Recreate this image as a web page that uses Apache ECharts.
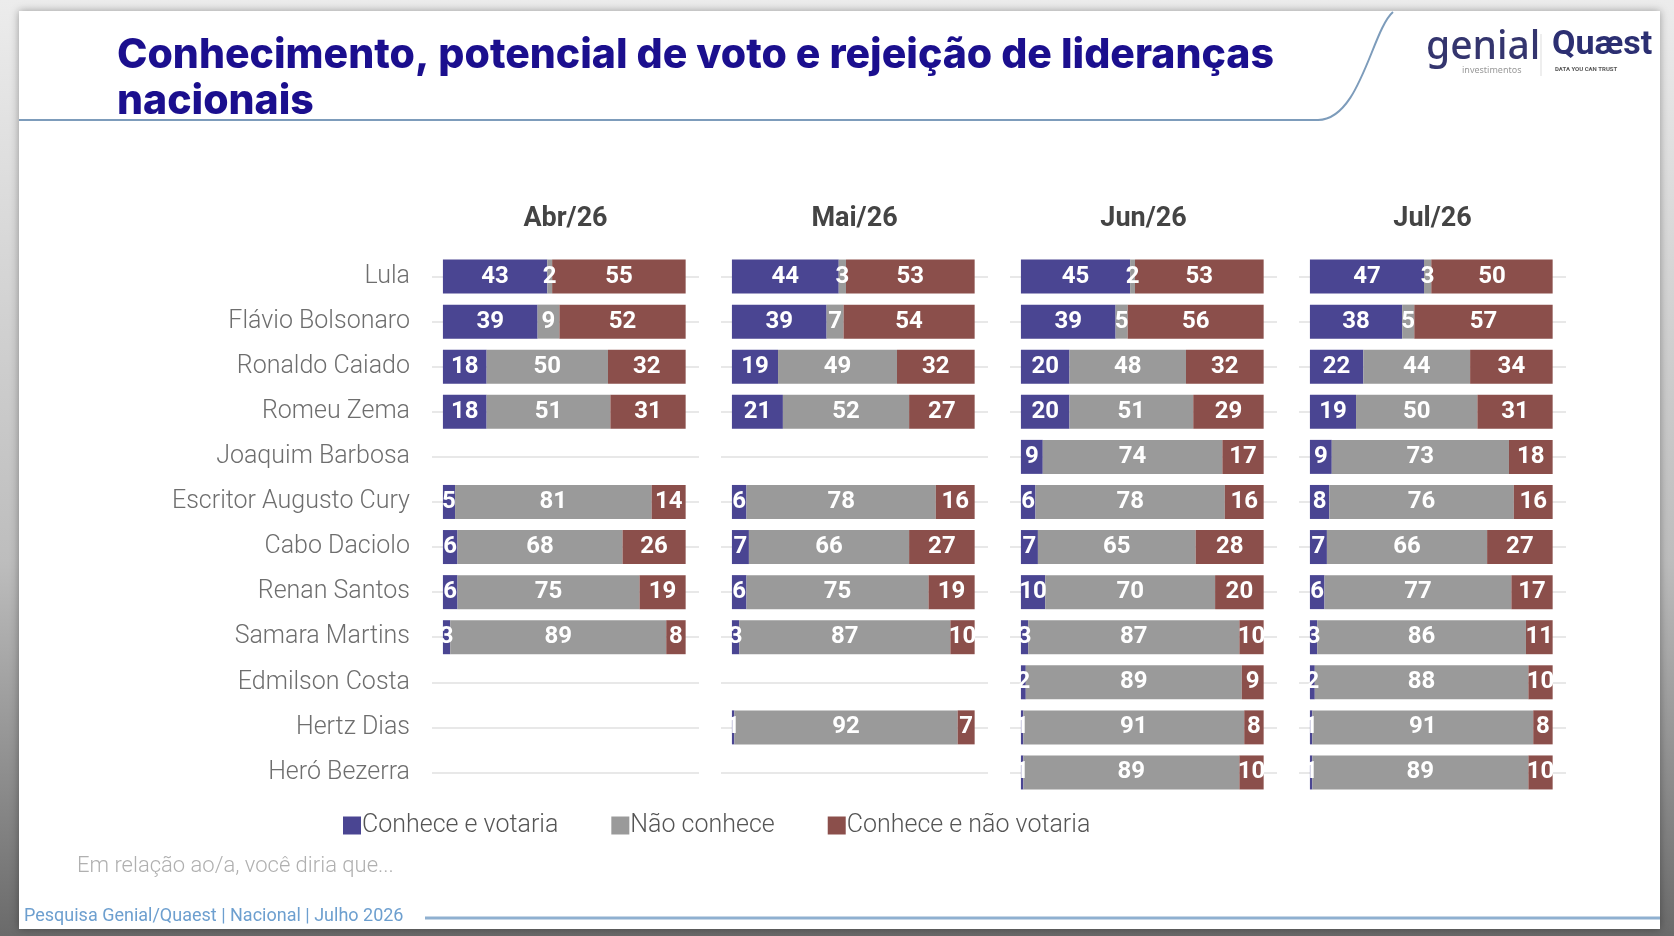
<!DOCTYPE html>
<html>
<head>
<meta charset="utf-8">
<script src="https://cdn.jsdelivr.net/npm/echarts@6/dist/echarts.min.js"></script>
<style>
  html, body { margin: 0; padding: 0; }
  #main { width: 1674px; height: 936px; }
</style>
</head>
<body>
<div id="main"></div>
<script>
// dados
var nomes = ['Lula', 'Flávio Bolsonaro', 'Ronaldo Caiado', 'Romeu Zema', 'Joaquim Barbosa',
  'Escritor Augusto Cury', 'Cabo Daciolo', 'Renan Santos', 'Samara Martins',
  'Edmilson Costa', 'Hertz Dias', 'Heró Bezerra'];
var meses = ['Abr/26', 'Mai/26', 'Jun/26', 'Jul/26'];
var legendas = ['Conhece e votaria', 'Não conhece', 'Conhece e não votaria'];

var votariaAbr = [43, 39, 18, 18, null, 5, 6, 6, 3, null, null, null];
var naoConheceAbr = [2, 9, 50, 51, null, 81, 68, 75, 89, null, null, null];
var rejeicaoAbr = [55, 52, 32, 31, null, 14, 26, 19, 8, null, null, null];

var votariaMai = [44, 39, 19, 21, null, 6, 7, 6, 3, null, 1, null];
var naoConheceMai = [3, 7, 49, 52, null, 78, 66, 75, 87, null, 92, null];
var rejeicaoMai = [53, 54, 32, 27, null, 16, 27, 19, 10, null, 7, null];

var votariaJun = [45, 39, 20, 20, 9, 6, 7, 10, 3, 2, 1, 1];
var naoConheceJun = [2, 5, 48, 51, 74, 78, 65, 70, 87, 89, 91, 89];
var rejeicaoJun = [53, 56, 32, 29, 17, 16, 28, 20, 10, 9, 8, 10];

var votariaJul = [47, 38, 22, 19, 9, 8, 7, 6, 3, 2, 1, 1];
var naoConheceJul = [3, 5, 44, 50, 73, 76, 66, 77, 86, 88, 91, 89];
var rejeicaoJul = [50, 57, 34, 31, 18, 16, 27, 17, 11, 10, 8, 10];

var dadosMes = [
  [votariaAbr, naoConheceAbr, rejeicaoAbr],
  [votariaMai, naoConheceMai, rejeicaoMai],
  [votariaJun, naoConheceJun, rejeicaoJun],
  [votariaJul, naoConheceJul, rejeicaoJul]
];
var cores = ['#4a4592', '#9a9a9a', '#8b4f4b'];

var chart = echarts.init(document.getElementById('main'));

var gridLeft = [432, 721, 1010, 1299], gridW = 267;
var grids = [], xAxes = [], yAxes = [], series = [], headers = [];

gridLeft.forEach(function (left, i) {
  grids.push({ left: left, top: 254, width: gridW, height: 541 });
  xAxes.push({ type: 'value', gridIndex: i, min: -4.5, max: 105.5, show: false });
  yAxes.push({
    type: 'category', gridIndex: i, data: nomes, inverse: true,
    axisLine: { show: false }, axisTick: { show: false },
    axisLabel: {
      show: i === 0, margin: 22, color: '#6e6e6e', fontSize: 25,
      fontFamily: 'Roboto', fontWeight: 300
    }
  });
  headers.push({
    type: 'text', x: left + gridW / 2, y: 206,
    style: { text: meses[i], font: 'bold 27px Roboto', fill: '#444', align: 'center' }
  });
  dadosMes[i].forEach(function (vals, k) {
    var s = {
      name: legendas[k], type: 'bar', stack: 'm' + i,
      xAxisIndex: i, yAxisIndex: i, barWidth: 34,
      itemStyle: { color: cores[k] },
      label: {
        show: true, position: 'inside', color: '#fff',
        fontSize: 24, fontWeight: 'bold', fontFamily: 'Roboto',
        formatter: function (p) { return p.value == null ? '' : p.value; }
      },
      data: vals
    };
    if (k === 0) {
      // linha clara atrás de cada categoria
      s.markLine = {
        silent: true, symbol: 'none', z: 0,
        label: { show: false },
        lineStyle: { color: '#e8e8e8', type: 'solid', width: 2 },
        data: nomes.map(function (n) { return { yAxis: n }; })
      };
    }
    series.push(s);
  });
});

var option = {
  backgroundColor: new echarts.graphic.LinearGradient(0, 0, 0, 1, [
    { offset: 0, color: '#ececec' }, { offset: 0.6, color: '#bdbdbd' }, { offset: 1, color: '#6a6a6a' }
  ]),
  animation: false,
  grid: grids,
  xAxis: xAxes,
  yAxis: yAxes,
  legend: {
    data: legendas, left: 338, top: 808, itemGap: 53,
    itemWidth: 18, itemHeight: 18, icon: 'rect',
    textStyle: { color: '#555', fontSize: 25, fontFamily: 'Roboto', fontWeight: 300, padding: [0, 0, 0, -4] }
  },
  series: series,
  graphic: [
    {
      type: 'rect', z: -10, shape: { x: 19, y: 11, width: 1641, height: 918 },
      style: { fill: '#fff', shadowBlur: 8, shadowColor: 'rgba(0,0,0,0.35)' }
    },
    { type: 'line', shape: { x1: 19, y1: 120, x2: 1318, y2: 120 }, style: { stroke: '#7d9cbb', lineWidth: 2 } },
    {
      type: 'bezierCurve',
      shape: { x1: 1318, y1: 120, cpx1: 1360, cpy1: 120, cpx2: 1372, cpy2: 30, x2: 1393, y2: 12 },
      style: { fill: null, stroke: '#7d9cbb', lineWidth: 2 }
    },
    {
      type: 'text', x: 117, y: 33,
      style: {
        text: 'Conhecimento, potencial de voto e rejeição de lideranças\nnacionais',
        font: '800 41px Inter', fill: '#1b0f8e', lineHeight: 46
      }
    },
    { type: 'text', x: 1426, y: 28, style: { text: 'genial', font: '500 39px "Noto Sans"', fill: '#34356e' } },
    { type: 'text', x: 1462, y: 66, style: { text: 'investimentos', font: '9px "Noto Sans"', fill: '#999' } },
    { type: 'line', shape: { x1: 1541, y1: 34, x2: 1541, y2: 76 }, style: { stroke: '#ddd', lineWidth: 1 } },
    { type: 'text', x: 1552, y: 28, style: { text: 'Quæst', font: 'bold 34px Roboto', fill: '#2c2f72' } },
    { type: 'text', x: 1555, y: 66, style: { text: 'DATA YOU CAN TRUST', font: 'bold 6px Roboto', fill: '#555' } },
    {
      type: 'text', x: 77, y: 855,
      style: { text: 'Em relação ao/a, você diria que...', font: '300 22px Roboto', fill: '#b0b0b0' }
    },
    {
      type: 'text', x: 24, y: 907,
      style: { text: 'Pesquisa Genial/Quaest | Nacional | Julho 2026', font: '18px Roboto', fill: '#6d9fcf' }
    },
    { type: 'line', shape: { x1: 425, y1: 918, x2: 1660, y2: 918 }, style: { stroke: '#8fb0d0', lineWidth: 3 } }
  ].concat(headers)
};

chart.setOption(option);
window.onresize = chart.resize;
</script>
</body>
</html>
